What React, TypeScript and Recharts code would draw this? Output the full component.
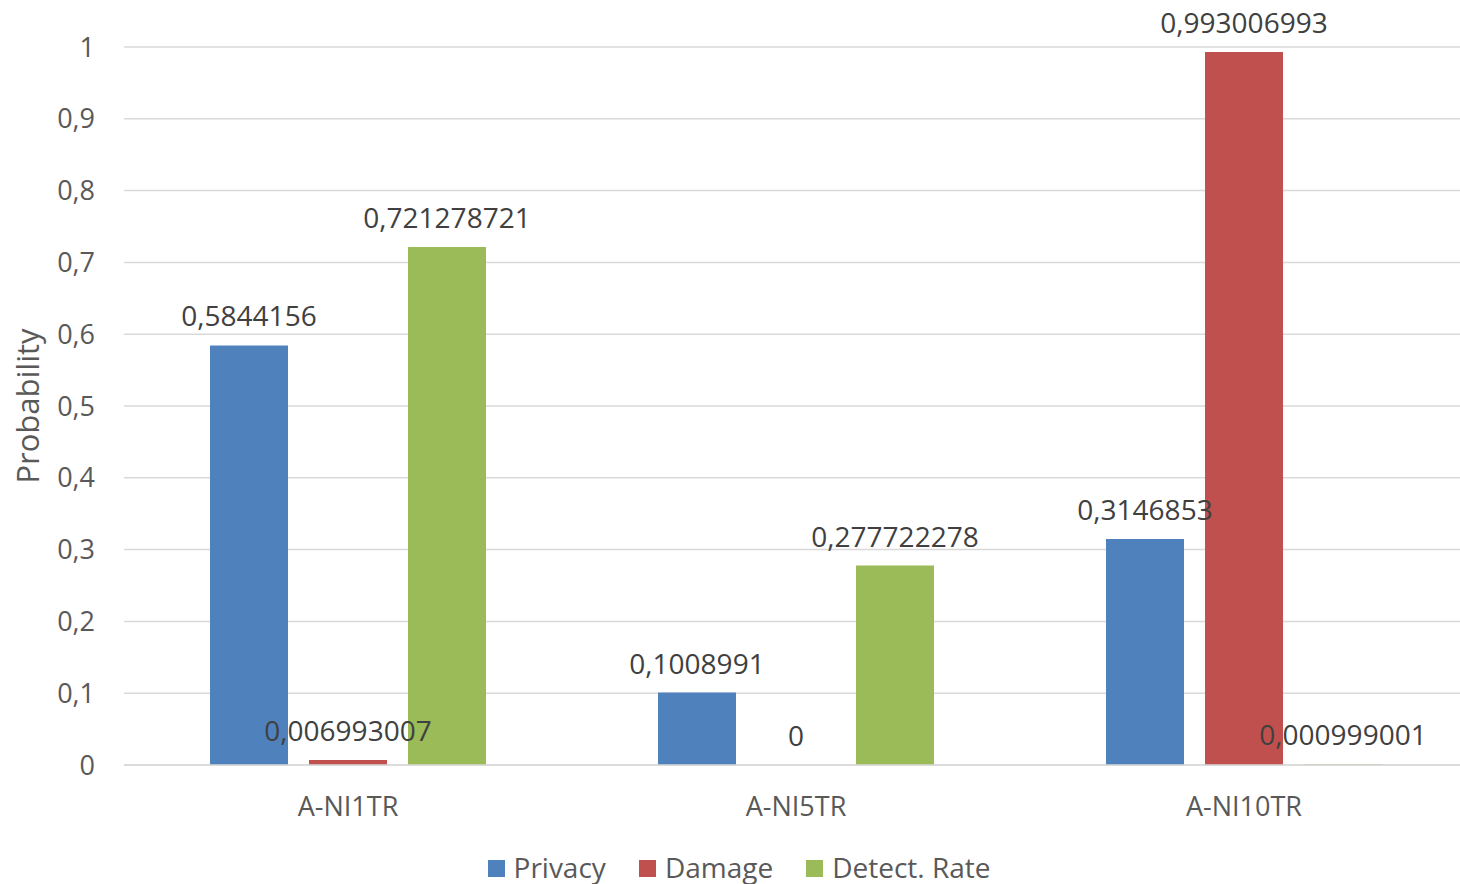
import { BarChart, Bar, XAxis, YAxis, CartesianGrid, Legend, LabelList } from "recharts";

const categories = ["A-NI1TR", "A-NI5TR", "A-NI10TR"];
const privacy = [0.5844156, 0.1008991, 0.3146853];
const damage = [0.006993007, 0, 0.993006993];
const detectRate = [0.721278721, 0.277722278, 0.000999001];
const yTicks = [0, 0.1, 0.2, 0.3, 0.4, 0.5, 0.6, 0.7, 0.8, 0.9, 1];

const series = [
  { key: "privacy", name: "Privacy", color: "#4F81BD" },
  { key: "damage", name: "Damage", color: "#C0504D" },
  { key: "detect", name: "Detect. Rate", color: "#9BBB59" },
];

const data = categories.map((c, i) => ({
  name: c,
  privacy: privacy[i],
  damage: damage[i],
  detect: detectRate[i],
}));

const FONT = "'Open Sans', sans-serif";
const comma = (v: number) => String(v).replace(".", ",");

function LegendContent() {
  return (
    <div
      style={{
        height: 40,
        boxSizing: "border-box",
        paddingTop: 6,
        paddingLeft: 10,
        display: "flex",
        justifyContent: "center",
        alignItems: "center",
        fontFamily: FONT,
        fontSize: 28,
        color: "#595959",
        lineHeight: "30px",
      }}
    >
      {series.map((s, i) => (
        <div key={s.key} style={{ display: "flex", alignItems: "center", marginLeft: i === 0 ? 0 : 33 }}>
          <span style={{ width: 17, height: 17, background: s.color, marginRight: 9, marginTop: 3, display: "inline-block" }} />
          <span>{s.name}</span>
        </div>
      ))}
    </div>
  );
}

export default function App() {
  return (
    <div style={{ position: "absolute", left: 0, top: 0, width: 1460, height: 884, overflow: "hidden", background: "#fff" }}>
      <BarChart
        width={1476}
        height={884}
        data={data}
        margin={{ top: 47, right: 8, bottom: 0, left: 0 }}
        barSize={78}
        barGap={21}
      >
        <CartesianGrid vertical={false} stroke="#D9D9D9" strokeWidth={1.5} />
        <XAxis
          dataKey="name"
          height={79}
          tickLine={false}
          tickSize={0}
          tickMargin={32}
          axisLine={{ stroke: "#D9D9D9", strokeWidth: 1.5 }}
          tick={{ fill: "#595959", fontSize: 27, fontFamily: FONT }}
        />
        <YAxis
          width={124}
          domain={[0, 1]}
          ticks={yTicks}
          interval={0}
          axisLine={false}
          tickLine={false}
          tickSize={0}
          tickMargin={29}
          tickFormatter={comma}
          tick={{ fill: "#595959", fontSize: 27, fontFamily: FONT }}
          label={(props: any) => {
            const vb = props.viewBox || {};
            const cy = vb.y != null && vb.height != null ? vb.y + vb.height / 2 : 406;
            return (
              <text
                x={27}
                y={cy}
                transform={`rotate(-90, 27, ${cy})`}
                textAnchor="middle"
                dominantBaseline="central"
                fill="#595959"
                fontSize={31}
                fontFamily={FONT}
              >
                Probability
              </text>
            );
          }}
        />
        <Legend verticalAlign="bottom" height={40} content={<LegendContent />} />
        {series.map((s) => (
          <Bar
            key={s.key}
            dataKey={s.key}
            name={s.name}
            fill={s.color}
            minPointSize={0.01}
            isAnimationActive={false}
          >
            <LabelList
              dataKey={s.key}
              position="top"
              offset={19}
              formatter={(v: any) => comma(Number(v))}
              style={{ fill: "#404040", fontSize: 28, fontFamily: FONT }}
            />
          </Bar>
        ))}
      </BarChart>
    </div>
  );
}
